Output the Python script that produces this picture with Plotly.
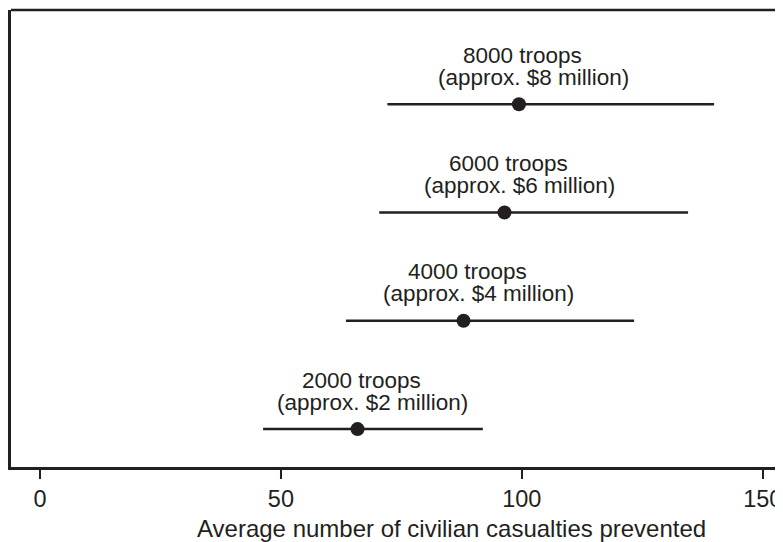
import plotly.graph_objects as go

# Data
troops = ["2000 troops", "4000 troops", "6000 troops", "8000 troops"]
costs = ["(approx. $2 million)", "(approx. $4 million)", "(approx. $6 million)", "(approx. $8 million)"]
positions = [1, 2, 3, 4]
estimate = [65.9, 87.9, 96.4, 99.4]
lower = [46.3, 63.5, 70.4, 72.1]
upper = [91.9, 123.3, 134.5, 139.9]
tick_vals = [0, 50, 100, 150]
tick_text = ["0", "50", "100", "150"]
x_title = "Average number of civilian casualties prevented"

FONT = "Liberation Sans, Arial, Helvetica, sans-serif"
INK = "#231f20"

fig = go.Figure()
fig.add_trace(go.Scatter(
    x=estimate, y=positions, mode="markers",
    marker=dict(size=14, color=INK),
    error_x=dict(type="data", symmetric=False,
                 array=[u - e for u, e in zip(upper, estimate)],
                 arrayminus=[e - l for e, l in zip(estimate, lower)],
                 width=0, thickness=2.5, color=INK),
    showlegend=False, hoverinfo="skip",
))

for t, c, p, e in zip(troops, costs, positions, estimate):
    fig.add_annotation(x=e, y=p, text=t, showarrow=False, xanchor="center", yanchor="middle",
                       xshift=4, yshift=49, font=dict(size=22.5, color=INK, family=FONT))
    fig.add_annotation(x=e, y=p, text=c, showarrow=False, xanchor="center", yanchor="middle",
                       xshift=15, yshift=27, font=dict(size=22.5, color=INK, family=FONT))

# x-axis title (centred on the full, wider frame of the original, which extends past the right edge)
fig.add_annotation(xref="paper", yref="paper", x=0.571, y=0, text=x_title, showarrow=False,
                   xanchor="center", yanchor="middle", yshift=-61,
                   font=dict(size=24, color=INK, family=FONT))

fig.add_shape(type="line", xref="paper", yref="paper", x0=0, x1=1, y0=1, y1=1,
              line=dict(color=INK, width=2.5))

fig.update_layout(
    width=775, height=534,
    margin=dict(l=3, r=0, t=2, b=75),
    paper_bgcolor="white", plot_bgcolor="white",
    font=dict(family=FONT, color=INK, size=23),
    xaxis=dict(range=[-6.02, 154.2], tickvals=tick_vals, ticktext=tick_text,
               showgrid=False, zeroline=False, showline=True, linecolor=INK, linewidth=2.5,
               ticks="outside", ticklen=9, tickwidth=2, tickcolor=INK,
               tickfont=dict(size=23.5, color=INK, family=FONT)),
    yaxis=dict(range=[0.65, 4.87], showticklabels=False, ticks="", showgrid=False,
               zeroline=False, showline=True, linecolor=INK, linewidth=2.5),
)

fig.write_html("out.html")
